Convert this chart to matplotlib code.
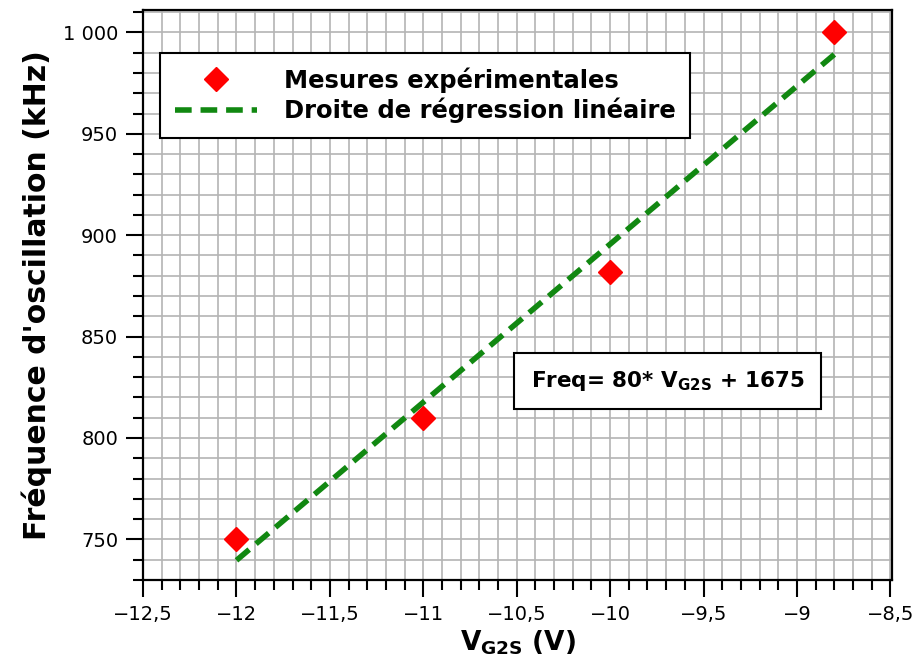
#!/usr/bin/env python3
"""Fréquence d'oscillation vs V_G2S with linear regression line."""

import numpy as np
import matplotlib.pyplot as plt
from matplotlib.ticker import MultipleLocator, FuncFormatter

# ---------------------------------------------------------------------------
# Data
# ---------------------------------------------------------------------------
VG2S = [-12.0, -11.0, -10.0, -8.8]
FREQ = [750, 810, 882, 1000]

RED = '#ff0000'
GREEN = '#118811'
GRID = '#b4b4b4'


def x_fmt(v, _):
    return f'{v:g}'.replace('-', '\u2212').replace('.', ',')


def y_fmt(v, _):
    return f'{int(round(v)):,}'.replace(',', ' ')


def main():
    fig = plt.figure(figsize=(9.17, 6.72), dpi=100, facecolor='white')
    ax = fig.add_axes([0.156, 0.137, 0.817, 0.848])

    # regression fit from the data
    slope, intercept = np.polyfit(VG2S, FREQ, 1)
    xs = np.array([min(VG2S), max(VG2S)])

    ax.plot(xs, slope * xs + intercept, ls=(0, (3, 1.6)), color=GREEN,
            lw=4, label='Droite de régression linéaire', zorder=3)
    ax.plot(VG2S, FREQ, 'D', color=RED, ms=12, mec=RED,
            label='Mesures expérimentales', zorder=4)

    ax.set_xlim(-12.5, -8.49)
    ax.set_ylim(730, 1011)

    ax.xaxis.set_major_locator(MultipleLocator(0.5))
    ax.xaxis.set_minor_locator(MultipleLocator(0.1))
    ax.yaxis.set_major_locator(MultipleLocator(50))
    ax.yaxis.set_minor_locator(MultipleLocator(10))
    ax.xaxis.set_major_formatter(FuncFormatter(x_fmt))
    ax.yaxis.set_major_formatter(FuncFormatter(y_fmt))

    ax.grid(True, which='both', color=GRID, lw=1.2, zorder=0)
    ax.set_axisbelow(True)
    ax.tick_params(which='major', direction='out', length=12, width=1.5,
                   labelsize=14, pad=6)
    ax.tick_params(which='minor', direction='out', length=7, width=1.5)
    for sp in ax.spines.values():
        sp.set_linewidth(1.6)

    ax.set_xlabel(r'$\mathbf{V_{G2S}}$ (V)', fontsize=19, fontweight='bold',
                  labelpad=3)
    ax.set_ylabel("Fréquence d'oscillation (kHz)", fontsize=21.5,
                  fontweight='bold', labelpad=8)

    # markers first in the legend
    handles, labels = ax.get_legend_handles_labels()
    leg = ax.legend(handles[::-1], labels[::-1], loc='upper left',
                    bbox_to_anchor=(0.0227, 0.925), borderaxespad=0,
                    fancybox=False, edgecolor='black', framealpha=1,
                    prop={'weight': 'bold', 'size': 17.5},
                    handlelength=3.4, borderpad=0.6, labelspacing=0.2,
                    handletextpad=1.1)
    leg.get_frame().set_linewidth(1.5)

    ax.text(0.70, 0.349, r'Freq= 80* V$_{\mathbf{G2S}}$ + 1675',
            transform=ax.transAxes, ha='center', va='center',
            fontsize=15.5, fontweight='bold', zorder=5,
            bbox=dict(boxstyle='square,pad=0.75', facecolor='white',
                      edgecolor='black', lw=1.5))

    fig.savefig('out.png', dpi=100, facecolor='white')
    plt.close(fig)


if __name__ == '__main__':
    main()
